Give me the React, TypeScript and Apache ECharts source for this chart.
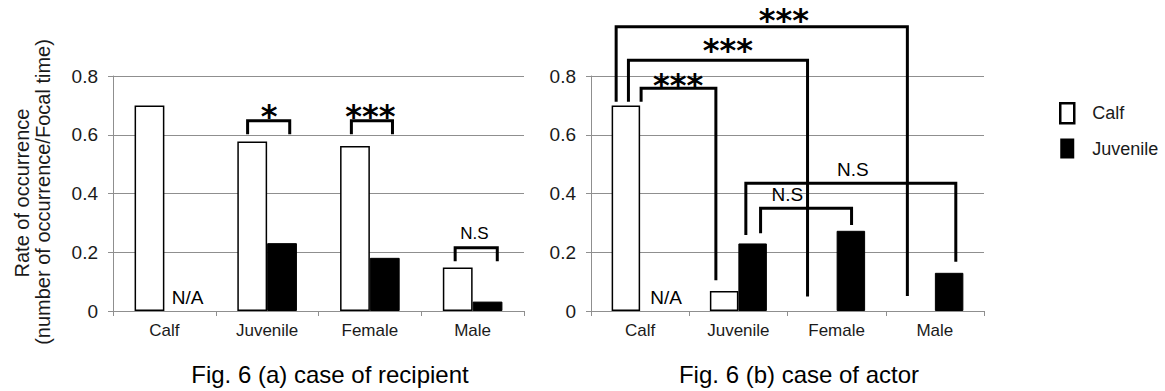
import React, { useEffect, useRef } from "react";
import * as echarts from "echarts";

// ---------- data ----------
const categories = ["Calf", "Juvenile", "Female", "Male"];
const seriesNames = ["Calf", "Juvenile"];
const yMin = 0;
const yMax = 0.8;
const yStep = 0.2;

// Fig. 6 (a) case of recipient
const recipientCalf = [0.7, 0.577, 0.562, 0.148];
const recipientJuvenile = [null, 0.231, 0.181, 0.032];
// Fig. 6 (b) case of actor
const actorCalf = [0.7, 0.068, null, null];
const actorJuvenile = [null, 0.23, 0.273, 0.13];

// significance brackets: [category1, bandOffset1, category2, bandOffset2, top, end1, end2]
const recipientBrackets = [
  [1, -0.19, 1, 0.22, 0.648, 0.602, 0.602],
  [2, -0.18, 2, 0.22, 0.648, 0.602, 0.602],
  [3, -0.17, 3, 0.24, 0.215, 0.169, 0.169],
];
const actorBrackets = [
  [0, 0.01, 1, -0.229, 0.758, 0.712, 0.105],
  [0, -0.119, 2, -0.296, 0.854, 0.712, 0.049],
  [0, -0.244, 3, -0.28, 0.968, 0.712, 0.051],
  [1, 0.226, 2, 0.152, 0.35, 0.265, 0.293],
  [1, 0.076, 3, 0.213, 0.435, 0.259, 0.168],
];
// notes: [category, bandOffset, value, text, kind]
const recipientNotes = [
  [1, 0.02, 0.684, "*", "star"],
  [2, 0.004, 0.684, "***", "star"],
  [3, 0.017, 0.265, "N.S", "nsSmall"],
  [0, 0.226, 0.047, "N/A", "na"],
];
const actorNotes = [
  [0, 0.387, 0.789, "***", "star"],
  [1, -0.107, 0.908, "***", "star"],
  [1, 0.463, 1.008, "***", "star"],
  [1, 0.498, 0.395, "N.S", "ns"],
  [2, 0.165, 0.482, "N.S", "ns"],
  [0, 0.265, 0.045, "N/A", "na"],
];
const captions = ["Fig. 6 (a) case of recipient", "Fig. 6 (b) case of actor"];
const yTitleLines = ["Rate of occurrence", "(number of occurrence/Focal time)"];

// ---------- styles ----------
const FONT = "'Liberation Sans', Arial, sans-serif";
const AXIS_GRAY = "#8f8f8f";
const TEXT = "#1a1a1a";
const noteStyles: Record<string, any> = {
  star: { fontSize: 32, fontFamily: "'DejaVu Sans', sans-serif", fontWeight: "bold", dy: 0.17 },
  ns: { fontSize: 19, fontFamily: FONT, fontWeight: "normal", dy: 0 },
  nsSmall: { fontSize: 17, fontFamily: FONT, fontWeight: "normal", dy: 0 },
  na: { fontSize: 19, fontFamily: FONT, fontWeight: "normal", dy: 0 },
};

function makeRenderer(brackets: any[], notes: any[]) {
  return (params: any, api: any) => {
    const i = params.dataIndex;
    const band = api.size([1, 0])[0];
    const px = (cat: number, off: number, v: number) => {
      const p = api.coord([cat, v]);
      return [p[0] + off * band, p[1]];
    };
    if (i < brackets.length) {
      const [c1, o1, c2, o2, top, e1, e2] = brackets[i];
      const a = px(c1, o1, e1);
      const b = px(c1, o1, top);
      const c = px(c2, o2, top);
      const d = px(c2, o2, e2);
      return {
        type: "polyline",
        shape: { points: [a, b, c, d] },
        style: { stroke: "#000", lineWidth: 3, fill: null, lineJoin: "miter", lineCap: "butt" },
        z2: 10,
      };
    }
    const [cat, off, v, text, kind] = notes[i - brackets.length];
    const st = noteStyles[kind];
    const p = px(cat, off, v);
    return {
      type: "text",
      x: p[0],
      y: p[1] + st.dy * st.fontSize,
      style: {
        text,
        fill: "#000",
        fontSize: st.fontSize,
        fontFamily: st.fontFamily,
        fontWeight: st.fontWeight,
        align: "center",
        verticalAlign: "middle",
      },
      z2: 10,
    };
  };
}

function makeGrid(idx: number) {
  return {
    xAxis: {
      type: "category",
      gridIndex: idx,
      data: categories,
      axisLine: { lineStyle: { color: AXIS_GRAY, width: 1 } },
      axisTick: { show: true, length: 5, lineStyle: { color: AXIS_GRAY } },
      axisLabel: { color: TEXT, fontSize: 17, fontFamily: FONT, margin: 11 },
    },
    yAxis: {
      type: "value",
      gridIndex: idx,
      min: yMin,
      max: yMax,
      interval: yStep,
      axisLine: { show: true, lineStyle: { color: AXIS_GRAY, width: 1 } },
      axisTick: { show: true, length: 5, lineStyle: { color: AXIS_GRAY } },
      splitLine: { lineStyle: { color: AXIS_GRAY, width: 1 } },
      axisLabel: {
        color: TEXT,
        fontSize: 19,
        fontFamily: FONT,
        margin: 15,
        formatter: (v: number) => (v === 0 ? "0" : v.toFixed(1)),
      },
    },
  };
}

export default function App() {
  const ref = useRef<HTMLDivElement>(null);
  useEffect(() => {
    if (!ref.current) return;
    const chart = echarts.init(ref.current, null, { renderer: "svg" });
    const g0 = makeGrid(0);
    const g1 = makeGrid(1);
    const barCommon = { barGap: "0%", barCategoryGap: "42%" };
    const calfStyle = { color: "#fff", borderColor: "#000", borderWidth: 1.5 };
    const juvStyle = { color: "#000", borderColor: "#000", borderWidth: 1 };
    const allBrackets = [recipientBrackets, actorBrackets];
    const allNotes = [recipientNotes, actorNotes];
    const customSeries = [0, 1].map((k) => ({
      type: "custom",
      xAxisIndex: k,
      yAxisIndex: k,
      clip: false,
      silent: true,
      z: 10,
      renderItem: makeRenderer(allBrackets[k], allNotes[k]),
      data: [
        ...allBrackets[k].map((b) => [b[0], b[4]]),
        ...allNotes[k].map((n) => [n[0], n[2]]),
      ],
    }));
    chart.setOption({
      animation: false,
      backgroundColor: "#fff",
      textStyle: { fontFamily: FONT },
      grid: [
        { left: 113, top: 76, width: 411, height: 235 },
        { left: 591, top: 76, width: 393, height: 235 },
      ],
      xAxis: [g0.xAxis, g1.xAxis],
      yAxis: [g0.yAxis, g1.yAxis],
      legend: {
        orient: "vertical",
        left: 1054,
        top: 97,
        itemWidth: 14,
        itemHeight: 20,
        itemGap: 14,
        icon: "rect",
        data: [
          { name: seriesNames[0], itemStyle: { color: "#fff", borderColor: "#000", borderWidth: 2.5 } },
          { name: seriesNames[1], itemStyle: { color: "#000", borderWidth: 0 } },
        ],
        formatter: "{a|{name}}",
        textStyle: {
          rich: { a: { fontSize: 18, fontFamily: FONT, color: TEXT, padding: [0, 0, 0, 13] } },
        },
      },
      series: [
        { name: seriesNames[0], type: "bar", xAxisIndex: 0, yAxisIndex: 0, data: recipientCalf, itemStyle: calfStyle, ...barCommon },
        { name: seriesNames[1], type: "bar", xAxisIndex: 0, yAxisIndex: 0, data: recipientJuvenile, itemStyle: juvStyle, ...barCommon },
        { name: seriesNames[0], type: "bar", xAxisIndex: 1, yAxisIndex: 1, data: actorCalf, itemStyle: calfStyle, ...barCommon },
        { name: seriesNames[1], type: "bar", xAxisIndex: 1, yAxisIndex: 1, data: actorJuvenile, itemStyle: juvStyle, ...barCommon },
        ...customSeries,
      ],
      graphic: [
        {
          type: "text",
          x: 22,
          y: 193,
          rotation: Math.PI / 2,
          style: { text: yTitleLines[0], fill: TEXT, fontSize: 20, fontFamily: FONT, align: "center", verticalAlign: "middle" },
        },
        {
          type: "text",
          x: 43,
          y: 192,
          rotation: Math.PI / 2,
          style: { text: yTitleLines[1], fill: TEXT, fontSize: 20, fontFamily: FONT, align: "center", verticalAlign: "middle" },
        },
        {
          type: "text",
          x: 330,
          y: 374,
          style: { text: captions[0], fill: "#000", fontSize: 24, fontFamily: FONT, align: "center", verticalAlign: "middle" },
        },
        {
          type: "text",
          x: 799,
          y: 374,
          style: { text: captions[1], fill: "#000", fontSize: 24, fontFamily: FONT, align: "center", verticalAlign: "middle" },
        },
      ],
    });
    return () => chart.dispose();
  }, []);
  return (
    <div
      ref={ref}
      style={{ position: "absolute", left: 0, top: 0, width: 1165, height: 391, background: "#fff" }}
    />
  );
}
